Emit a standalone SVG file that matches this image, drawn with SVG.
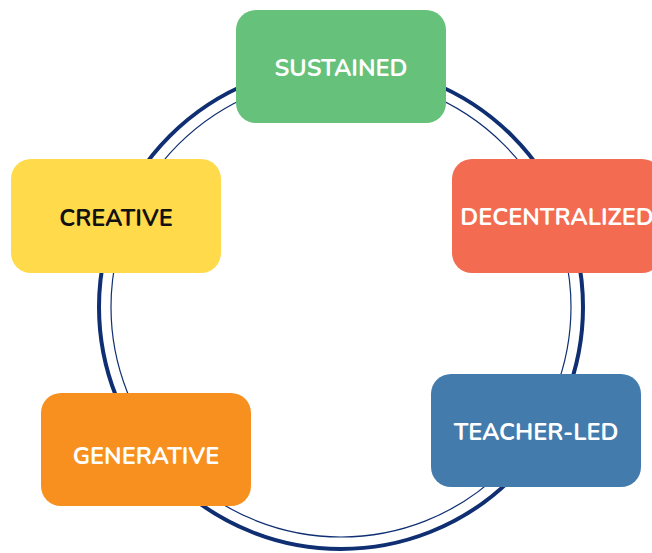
<svg xmlns="http://www.w3.org/2000/svg" width="652" height="553" viewBox="0 0 652 553">
  <style>
    .ring { fill: none; stroke: #0f2f72; }
    .box { stroke: none; }
    .label { font-family: "Nunito", "Lato", "Open Sans", sans-serif; font-weight: 700; font-size: 23.5px; text-anchor: middle; fill: #ffffff; }
    .dark { fill: #111111; }
  </style>
  <rect width="652" height="553" fill="#ffffff"/>
  <g id="connectors">
    <circle class="ring" cx="341" cy="307" r="242" stroke-width="4"/>
    <circle class="ring" cx="341" cy="307" r="230" stroke-width="1.2"/>
  </g>
  <g id="sustained">
    <rect class="box" x="236" y="10" width="210" height="113" rx="20" fill="#66c17a"/>
    <text class="label" x="341" y="76">SUSTAINED</text>
  </g>
  <g id="decentralized">
    <rect class="box" x="452" y="159" width="210" height="114" rx="20" fill="#f36c52"/>
    <text class="label" x="557" y="225">DECENTRALIZED</text>
  </g>
  <g id="creative">
    <rect class="box" x="11" y="159" width="210" height="114" rx="20" fill="#ffda4b"/>
    <text class="label dark" x="116" y="226">CREATIVE</text>
  </g>
  <g id="generative">
    <rect class="box" x="41" y="393" width="210" height="113" rx="20" fill="#f7901f"/>
    <text class="label" x="146" y="464">GENERATIVE</text>
  </g>
  <g id="teacher-led">
    <rect class="box" x="431" y="374" width="210" height="113" rx="20" fill="#437bac"/>
    <text class="label" x="536" y="440">TEACHER-LED</text>
  </g>
</svg>
